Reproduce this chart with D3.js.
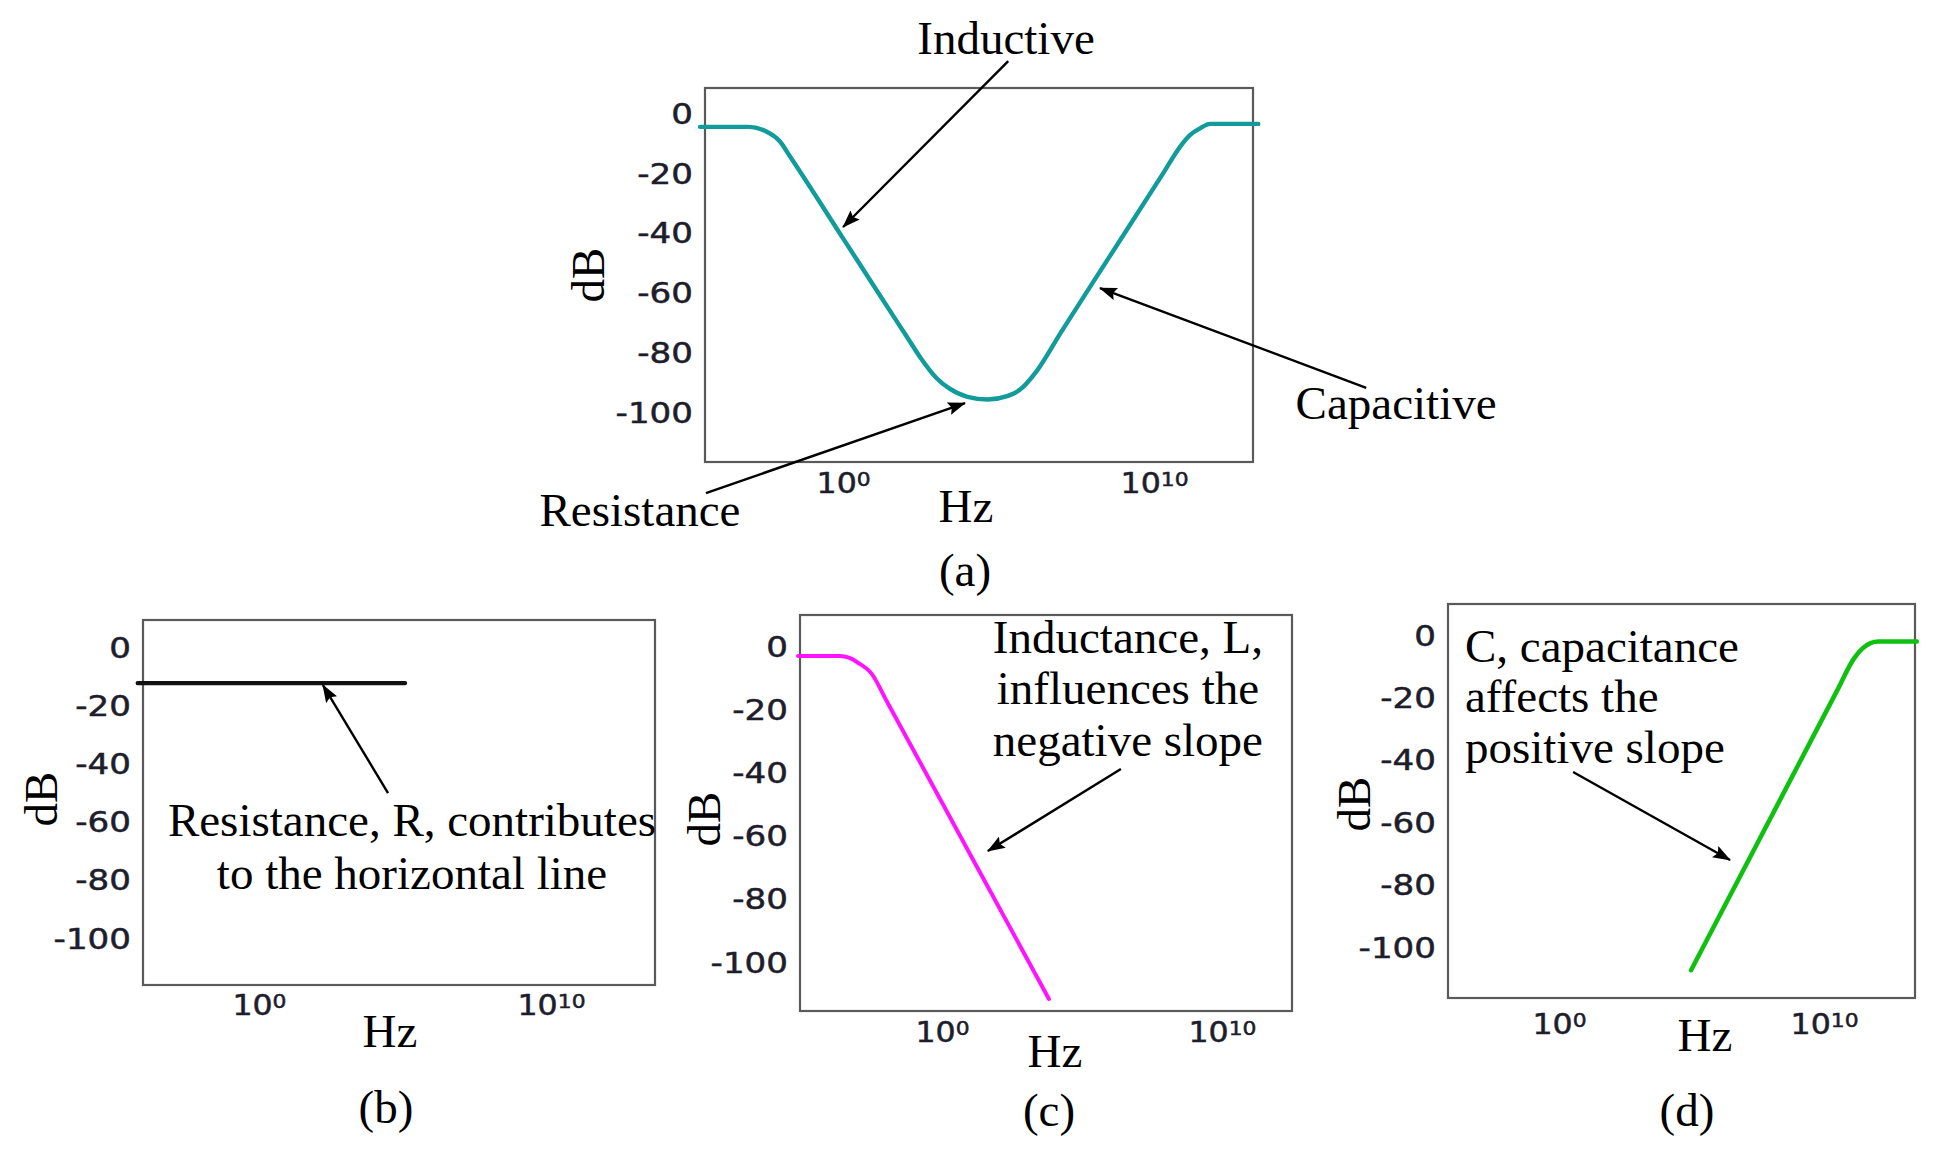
<!DOCTYPE html>
<html>
<head>
<meta charset="utf-8">
<script src="https://cdn.jsdelivr.net/npm/d3@7"></script>
<style>
  html, body { margin: 0; padding: 0; background: #ffffff; }
  svg { display: block; }
</style>
</head>
<body>
<svg id="chart" width="1942" height="1153"></svg>
<script>
// ---------------- DATA ----------------
const yTickValues = [0, -20, -40, -60, -80, -100];      // dB tick labels
const xTickExponents = [0, 10];                          // 10^0, 10^10 Hz

// (a) full RLC impedance response: log10(Hz) and dB
const logFreqA = [-4.6, -3.05, -2.5, -2.03, -1.7, 0.0, 1.0, 2.05, 2.5, 3.0, 3.4, 4.0, 4.65, 5.3, 5.7, 6.23, 7.0, 8.5, 10.3, 10.84, 11.16, 11.48, 11.8, 13.35];
const dbA      = [-4.6, -4.6, -6.0, -9.5, -14.6, -41.9, -58.0, -74.8, -82.0, -88.6, -92.0, -94.9, -95.8, -94.6, -92.4, -86.2, -73.4, -49.1, -20.0, -11.2, -7.3, -5.1, -3.6, -3.6];

// (b) resistance only
const logFreqB = [-4.15, 5.0];
const dbB      = [-12.4, -12.4];

// (c) inductance (negative slope)
const logFreqC = [-5.14, -3.64, -3.3, -3.0, -2.5, -2.0, 1.14, 3.82];
const dbC      = [-3.2, -3.2, -3.8, -5.3, -8.9, -17.0, -68.1, -111.7];

// (d) capacitance (positive slope)
const logFreqD = [4.98, 8.04, 10.5, 11.13, 11.45, 11.75, 12.05, 13.5];
const dbD      = [-107.4, -57.7, -17.7, -7.5, -4.3, -2.6, -2.1, -2.1];

// annotation texts (positions given in data units: log10 Hz, dB)
const annotA = [
  { lines: ["Inductive"],  e: 5.24,  db: [19.8],   anchor: "middle", arrow: [[5.31, 17.4], [0.0, -38.1]] },
  { lines: ["Capacitive"], e: 17.78, db: [-102.3], anchor: "middle", arrow: [[16.82, -91.9], [8.26, -58.5]] },
  { lines: ["Resistance"], e: -6.53, db: [-138.1], anchor: "middle", arrow: [[-4.41, -127.1], [3.92, -97.0]] }
];
const annotB = [
  { lines: ["Resistance, R, contributes", "to the horizontal line"], e: 5.24, db: [-65.0, -83.2], anchor: "middle", arrow: [[4.42, -50.2], [2.19, -13.1]] }
];
const annotC = [
  { lines: ["Inductance, L,", "influences the", "negative slope"], e: 6.64, db: [-2.2, -18.4, -34.8], anchor: "middle", arrow: [[6.39, -38.9], [1.64, -64.9]] }
];
const annotD = [
  { lines: ["C, capacitance", "affects the", "positive slope"], e: -3.55, db: [-8.7, -24.7, -41.0], anchor: "start", arrow: [[0.53, -43.9], [6.45, -72.1]] }
];

// ---------------- LAYOUT / STYLE ----------------
const SERIF = '"Liberation Serif", "Times New Roman", serif';
const SANS = '"DejaVu Sans", Verdana, sans-serif';
const serifSize = 47;
const tickSize = 27.5;
const tickStretch = 1.24;

const panels = [
  { tag: "(a)", box: {x0: 705, y0: 88, x1: 1253, y1: 462}, xExp: [-4.44, 13.18], yDom: [-116.7, 8.4],
    logF: logFreqA, db: dbA, color: "#119b9a", width: 4.4, annot: annotA,
    xTickDy: 31, hz: [966, 522], dbLab: [604, 275], tagPos: [965, 586] },
  { tag: "(b)", box: {x0: 143, y0: 620, x1: 655, y1: 985}, xExp: [-3.97, 13.56], yDom: [-116.2, 9.3],
    logF: logFreqB, db: dbB, color: "#111111", width: 4.4, annot: annotB,
    xTickDy: 30, hz: [390, 1047], dbLab: [57, 799], tagPos: [386, 1123] },
  { tag: "(c)", box: {x0: 800, y0: 615, x1: 1292, y1: 1011}, xExp: [-5.07, 12.5], yDom: [-115.5, 9.8],
    logF: logFreqC, db: dbC, color: "#ff14ff", width: 4.0, annot: annotC,
    xTickDy: 31, hz: [1055, 1067], dbLab: [720, 819], tagPos: [1049, 1126] },
  { tag: "(d)", box: {x0: 1448, y0: 604, x1: 1915, y1: 998}, xExp: [-4.19, 13.43], yDom: [-116.3, 9.9],
    logF: logFreqD, db: dbD, color: "#10c010", width: 4.6, annot: annotD,
    xTickDy: 36, hz: [1705, 1051], dbLab: [1370, 804], tagPos: [1687, 1126] }
];

// ---------------- DRAW ----------------
const svg = d3.select("#chart");
svg.append("rect").attr("width", 1942).attr("height", 1153).attr("fill", "#ffffff");

const defs = svg.append("defs");
defs.append("marker")
  .attr("id", "arrowhead")
  .attr("viewBox", "0 0 18 13")
  .attr("refX", 17).attr("refY", 6.5)
  .attr("markerWidth", 18).attr("markerHeight", 13)
  .attr("markerUnits", "userSpaceOnUse")
  .attr("orient", "auto")
  .append("path").attr("d", "M0,0 L18,6.5 L0,13 L3,6.5 Z").attr("fill", "#000");

panels.forEach(p => {
  const g = svg.append("g");
  const x = d3.scaleLog().domain([Math.pow(10, p.xExp[0]), Math.pow(10, p.xExp[1])]).range([p.box.x0, p.box.x1]);
  const y = d3.scaleLinear().domain(p.yDom).range([p.box.y1, p.box.y0]);

  // frame
  g.append("rect")
    .attr("x", p.box.x0).attr("y", p.box.y0)
    .attr("width", p.box.x1 - p.box.x0).attr("height", p.box.y1 - p.box.y0)
    .attr("fill", "none").attr("stroke", "#5a5a5a").attr("stroke-width", 2.2);

  // y axis (labels only)
  const yAxis = g.append("g").attr("transform", `translate(${p.box.x0},0)`)
    .call(d3.axisLeft(y).tickValues(yTickValues).tickSize(0).tickPadding(0).tickFormat(d => String(d)));
  yAxis.select(".domain").remove();
  yAxis.selectAll(".tick line").remove();
  yAxis.selectAll(".tick text")
    .attr("x", 0).attr("dy", "0.37em")
    .attr("font-family", SANS).attr("font-size", tickSize).attr("fill", "#1d1d2b")
    .attr("stroke", "#1d1d2b").attr("stroke-width", 0.5)
    .attr("text-anchor", "end")
    .attr("transform", `translate(-12,0) scale(${tickStretch},1)`);

  // x axis (labels only, 10^n with superscript)
  const xAxis = g.append("g").attr("transform", `translate(0,${p.box.y1})`)
    .call(d3.axisBottom(x).tickValues(xTickExponents.map(e => Math.pow(10, e))).tickSize(0).tickFormat(() => ""));
  xAxis.select(".domain").remove();
  xAxis.selectAll(".tick line").remove();
  xAxis.selectAll(".tick text").each(function(d) {
    const t = d3.select(this);
    t.text(null).attr("y", 0).attr("dy", null)
      .attr("font-family", SANS).attr("font-size", tickSize).attr("fill", "#1d1d2b")
      .attr("stroke", "#1d1d2b").attr("stroke-width", 0.5)
      .attr("text-anchor", "middle")
      .attr("transform", `translate(0,${p.xTickDy}) scale(1.15,1)`);
    t.append("tspan").text("10");
    t.append("tspan").attr("font-size", 19).attr("dy", -7).text(String(Math.round(Math.log10(d))));
  });

  // axis titles
  g.append("text").attr("x", p.hz[0]).attr("y", p.hz[1])
    .attr("text-anchor", "middle").attr("font-family", SERIF).attr("font-size", serifSize)
    .attr("fill", "#000").text("Hz");
  g.append("text").attr("transform", `translate(${p.dbLab[0]},${p.dbLab[1]}) rotate(-90)`)
    .attr("text-anchor", "middle").attr("font-family", SERIF).attr("font-size", serifSize)
    .attr("fill", "#000").text("dB");
  g.append("text").attr("x", p.tagPos[0]).attr("y", p.tagPos[1])
    .attr("text-anchor", "middle").attr("font-family", SERIF).attr("font-size", serifSize)
    .attr("fill", "#000").text(p.tag);

  // response curve
  const pts = p.logF.map((e, i) => [e, p.db[i]]);
  const line = d3.line()
    .x(d => x(Math.pow(10, d[0])))
    .y(d => y(d[1]))
    .curve(pts.length > 2 ? d3.curveMonotoneX : d3.curveLinear);
  g.append("path").datum(pts)
    .attr("d", line)
    .attr("fill", "none").attr("stroke", p.color).attr("stroke-width", p.width)
    .attr("stroke-linecap", "round").attr("stroke-linejoin", "round");

  // annotations
  p.annot.forEach(a => {
    const [s, t] = a.arrow;
    g.append("line")
      .attr("x1", x(Math.pow(10, s[0]))).attr("y1", y(s[1]))
      .attr("x2", x(Math.pow(10, t[0]))).attr("y2", y(t[1]))
      .attr("stroke", "#000").attr("stroke-width", 2.4)
      .attr("marker-end", "url(#arrowhead)");
    a.lines.forEach((ln, i) => {
      g.append("text")
        .attr("x", x(Math.pow(10, a.e))).attr("y", y(a.db[i]))
        .attr("text-anchor", a.anchor)
        .attr("font-family", SERIF).attr("font-size", serifSize).attr("fill", "#000")
        .text(ln);
    });
  });
});
</script>
</body>
</html>
